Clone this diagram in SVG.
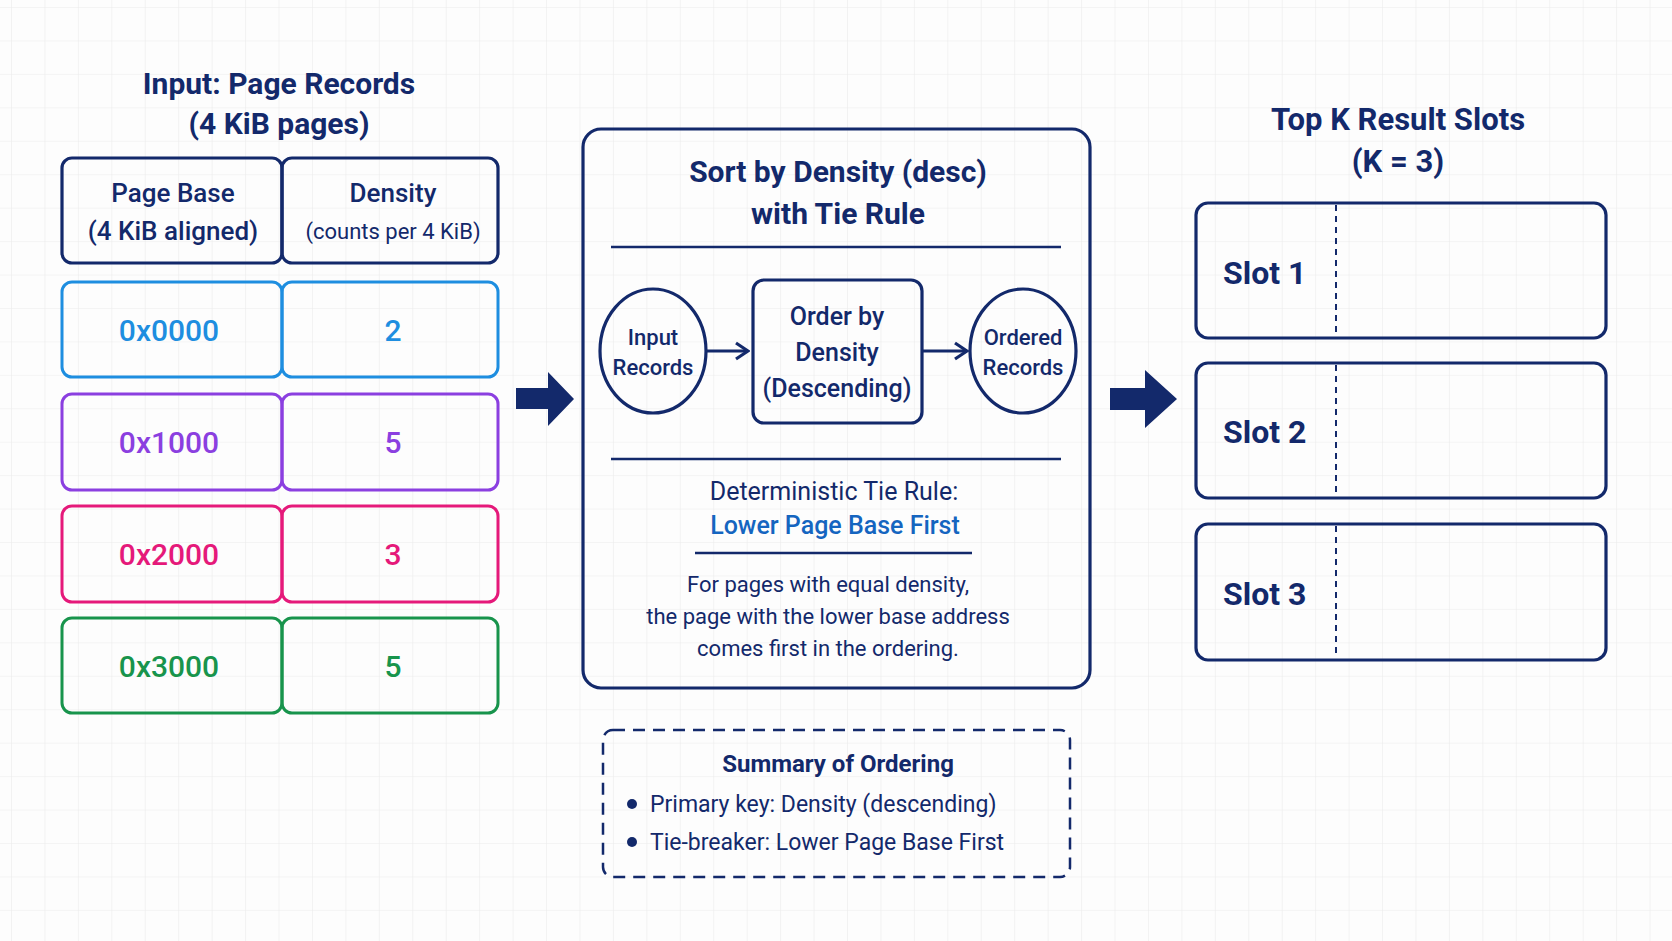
<svg xmlns="http://www.w3.org/2000/svg" width="1672" height="941" viewBox="0 0 1672 941">
<defs>
<pattern id="grid" x="11" y="7" width="33.44" height="33.44" patternUnits="userSpaceOnUse">
<path d="M0 0H33.44M0 0V33.44" fill="none" stroke="#ebebeb" stroke-width="1.2"/>
</pattern>
<marker id="chev" viewBox="0 0 16 20" refX="14" refY="10" markerWidth="16" markerHeight="20" markerUnits="userSpaceOnUse" orient="auto">
<path d="M2 2L14 10L2 18" fill="none" stroke="#13296b" stroke-width="3.2" stroke-linejoin="miter"/>
</marker>
<style>
text{font-family:Roboto,"Liberation Sans",sans-serif;fill:#13296b;text-anchor:middle}
.t{font-size:30px;font-weight:700}
.h{font-size:26px;font-weight:500}
.hs{font-size:22px;font-weight:400}
.v{font-size:30px;font-weight:500}
.nv{fill:none;stroke:#13296b;stroke-width:3.2}
.blue{stroke:#1e8ee0}.purple{stroke:#8b3fe0}.pink{stroke:#e5197a}.green{stroke:#18944c}
.row{fill:none;stroke-width:3}
.m{font-size:22px;font-weight:500}
.b{font-size:22px;font-weight:400}
.s{font-size:23px;font-weight:400;text-anchor:start}
.slot{font-size:32px;font-weight:700;text-anchor:start}
</style>
</defs>
<rect width="1672" height="941" fill="#fdfdfd"/>
<rect width="1672" height="941" fill="url(#grid)"/>

<g id="input-title">
<text class="t" x="279" y="94">Input: Page Records</text>
<text class="t" x="279" y="134">(4 KiB pages)</text>
</g>

<g id="header">
<rect class="nv" x="62" y="158" width="220" height="105" rx="10"/>
<rect class="nv" x="282" y="158" width="216" height="105" rx="10"/>
<text class="h" x="173" y="202">Page Base</text>
<text class="h" x="173" y="240">(4 KiB aligned)</text>
<text class="h" x="393" y="202">Density</text>
<text class="hs" x="393" y="239">(counts per 4 KiB)</text>
</g>

<g id="row-0x0000">
<rect class="row blue" x="62" y="282" width="220" height="95" rx="10"/>
<rect class="row blue" x="282" y="282" width="216" height="95" rx="10"/>
<text class="v" x="169" y="341" style="fill:#1e8ee0">0x0000</text>
<text class="v" x="393" y="341" style="fill:#1e8ee0">2</text>
</g>
<g id="row-0x1000">
<rect class="row purple" x="62" y="394" width="220" height="96" rx="10"/>
<rect class="row purple" x="282" y="394" width="216" height="96" rx="10"/>
<text class="v" x="169" y="453" style="fill:#8b3fe0">0x1000</text>
<text class="v" x="393" y="453" style="fill:#8b3fe0">5</text>
</g>
<g id="row-0x2000">
<rect class="row pink" x="62" y="506" width="220" height="96" rx="10"/>
<rect class="row pink" x="282" y="506" width="216" height="96" rx="10"/>
<text class="v" x="169" y="565" style="fill:#e5197a">0x2000</text>
<text class="v" x="393" y="565" style="fill:#e5197a">3</text>
</g>
<g id="row-0x3000">
<rect class="row green" x="62" y="618" width="220" height="95" rx="10"/>
<rect class="row green" x="282" y="618" width="216" height="95" rx="10"/>
<text class="v" x="169" y="677" style="fill:#18944c">0x3000</text>
<text class="v" x="393" y="677" style="fill:#18944c">5</text>
</g>

<g id="sort-box">
<rect class="nv" x="583" y="129" width="507" height="559" rx="18"/>
<text class="t" x="838" y="182">Sort by Density (desc)</text>
<text class="t" x="838" y="224">with Tie Rule</text>
<line x1="611" y1="247" x2="1061" y2="247" stroke="#13296b" stroke-width="2.5"/>
<line x1="611" y1="459" x2="1061" y2="459" stroke="#13296b" stroke-width="2.5"/>
<text class="h" style="font-weight:400;font-size:25px" x="834" y="500">Deterministic Tie Rule:</text>
<text class="h" style="fill:#1565c0;font-size:25px" x="835" y="534">Lower Page Base First</text>
<line x1="695" y1="553" x2="972" y2="553" stroke="#13296b" stroke-width="2.5"/>
<text class="b" x="828" y="592">For pages with equal density,</text>
<text class="b" x="828" y="624">the page with the lower base address</text>
<text class="b" x="828" y="656">comes first in the ordering.</text>
</g>

<g id="input-records">
<ellipse class="nv" cx="653" cy="351" rx="53" ry="62" stroke-width="3"/>
<text class="m" x="653" y="345">Input</text>
<text class="m" x="653" y="375">Records</text>
</g>
<g id="order-by-density">
<rect class="nv" x="753" y="280" width="169" height="143" rx="11" stroke-width="3"/>
<text class="h" style="font-size:25px" x="837" y="325">Order by</text>
<text class="h" style="font-size:25px" x="837" y="361">Density</text>
<text class="h" style="font-size:25px" x="837" y="397">(Descending)</text>
</g>
<g id="ordered-records">
<ellipse class="nv" cx="1023" cy="351" rx="53" ry="62" stroke-width="3"/>
<text class="m" x="1023" y="345">Ordered</text>
<text class="m" x="1023" y="375">Records</text>
</g>

<g id="summary">
<rect x="603" y="730" width="467" height="147" rx="10" fill="none" stroke="#13296b" stroke-width="2.5" stroke-dasharray="12 8"/>
<text class="m" style="font-weight:700;font-size:24px" x="838" y="772">Summary of Ordering</text>
<circle cx="632" cy="804" r="5" fill="#13296b"/>
<text class="s" x="650" y="812">Primary key: Density (descending)</text>
<circle cx="632" cy="842" r="5" fill="#13296b"/>
<text class="s" x="650" y="850">Tie-breaker: Lower Page Base First</text>
</g>

<g id="topk-title">
<text class="t" style="font-size:31px" x="1398" y="130">Top K Result Slots</text>
<text class="t" style="font-size:31px" x="1398" y="172">(K = 3)</text>
</g>
<g id="slot-1">
<rect class="nv" x="1196" y="203" width="410" height="135" rx="12"/>
<line x1="1336" y1="205" x2="1336" y2="336" stroke="#13296b" stroke-width="2" stroke-dasharray="6 5"/>
<text class="slot" x="1223" y="284">Slot 1</text>
</g>
<g id="slot-2">
<rect class="nv" x="1196" y="363" width="410" height="135" rx="12"/>
<line x1="1336" y1="365" x2="1336" y2="496" stroke="#13296b" stroke-width="2" stroke-dasharray="6 5"/>
<text class="slot" x="1223" y="443">Slot 2</text>
</g>
<g id="slot-3">
<rect class="nv" x="1196" y="524" width="410" height="136" rx="12"/>
<line x1="1336" y1="526" x2="1336" y2="658" stroke="#13296b" stroke-width="2" stroke-dasharray="6 5"/>
<text class="slot" x="1223" y="605">Slot 3</text>
</g>

<g id="connectors">
<path d="M516 388H548V372L574 399L548 426V409H516Z" fill="#13296b"/>
<path d="M1110 388H1145V370L1177 399L1145 428V410H1110Z" fill="#13296b"/>
<line x1="706" y1="351" x2="748" y2="351" stroke="#13296b" stroke-width="3.2" marker-end="url(#chev)"/>
<line x1="922" y1="351" x2="967" y2="351" stroke="#13296b" stroke-width="3.2" marker-end="url(#chev)"/>
</g>
</svg>
